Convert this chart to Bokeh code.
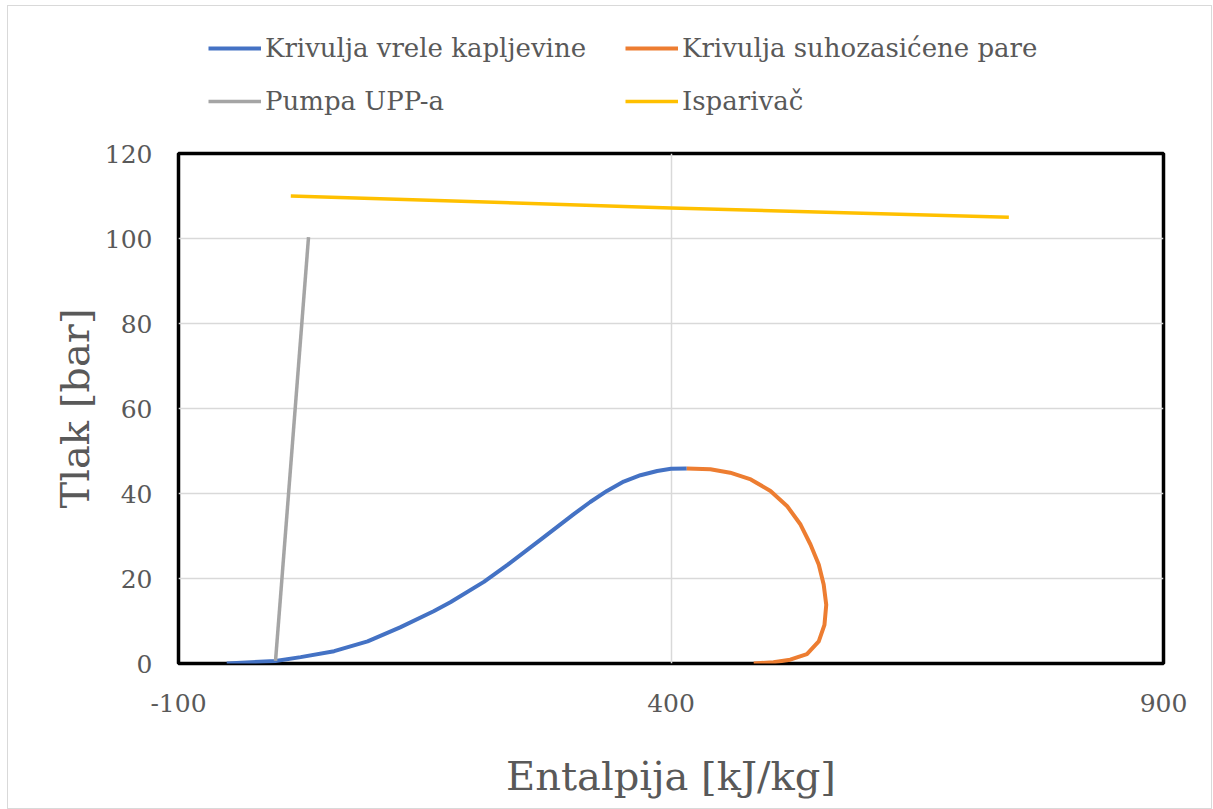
from bokeh.plotting import figure
from bokeh.models import Legend, LegendItem, FixedTicker, Range1d
from bokeh.layouts import column
from bokeh.embed import file_html
from bokeh.resources import INLINE

# --- data ---
blue_h = [-51, -1.5, 24, 58, 92, 125, 159, 176, 210, 234, 268, 301, 318, 335, 352, 369, 386, 400, 416]
blue_p = [0.0, 0.6, 1.5, 2.9, 5.2, 8.5, 12.3, 14.4, 19.2, 23.2, 29.2, 35.1, 38.0, 40.6, 42.8, 44.3, 45.3, 45.8, 45.9]

orange_h = [416, 440, 460, 481, 501, 518, 531.5, 541.6, 550, 555, 557.6, 555.8, 550, 538, 521, 504, 484]
orange_p = [45.9, 45.7, 44.9, 43.3, 40.6, 37.0, 32.7, 28.0, 23.3, 18.6, 13.8, 9.1, 5.2, 2.2, 0.9, 0.3, 0.0]

pump_h = [-1.5, 32]
pump_p = [0.6, 100.3]

evap_h = [14, 400, 743]
evap_p = [110.0, 107.2, 105.0]

x_ticks = [-100, 400, 900]
y_ticks = [0, 20, 40, 60, 80, 100, 120]

names = ["Krivulja vrele kapljevine", "Krivulja suhozasićene pare", "Pumpa UPP-a", "Isparivač"]
colors = ["#4472C4", "#ED7D31", "#A5A5A5", "#FFC000"]
widths = [4, 4, 3.5, 3.5]
series = [(blue_h, blue_p), (orange_h, orange_p), (pump_h, pump_p), (evap_h, evap_p)]

FONT = "DejaVu Serif"
TXT = "#595959"

# ---------- legend strip (top) ----------
lg = figure(width=1203, height=127, output_backend="svg", toolbar_location=None,
            x_axis_type=None, y_axis_type=None,
            x_range=Range1d(1e6, 1e6 + 1), y_range=Range1d(1e6, 1e6 + 1),
            min_border=0)
lg.outline_line_color = None
lg.grid.visible = False
proxies = [lg.line(h, v, line_color=c, line_width=w) for (h, v), c, w in zip(series, colors, widths)]
legend = Legend(items=[LegendItem(label=n, renderers=[r]) for n, r in zip(names, proxies)],
                location=(30, 17), ncols=2, orientation="horizontal")
legend.label_text_font = FONT
legend.label_text_font_size = "26px"
legend.label_text_color = TXT
legend.glyph_width = 53
legend.glyph_height = 20
legend.label_height = 20
legend.label_width = 337
legend.label_standoff = 4
legend.spacing = 23
legend.padding = 0
legend.margin = 0
legend.border_line_color = None
legend.background_fill_alpha = 0
lg.add_layout(legend, "center")

# ---------- main chart ----------
p = figure(width=1203, height=675, output_backend="svg", toolbar_location=None,
           x_range=Range1d(-100, 900), y_range=Range1d(0, 120),
           min_border_left=170, min_border_right=48, min_border_top=20, min_border_bottom=145)

p.outline_line_color = "black"
p.outline_line_width = 3.5

for ax in (p.xaxis[0], p.yaxis[0]):
    ax.axis_line_color = None
    ax.major_tick_line_color = None
    ax.minor_tick_line_color = None
    ax.major_tick_out = 0
    ax.major_tick_in = 0
    ax.minor_tick_out = 0
    ax.major_label_text_font = FONT
    ax.major_label_text_font_size = "25px"
    ax.major_label_text_color = TXT
    ax.axis_label_text_font = FONT
    ax.axis_label_text_font_size = "40px"
    ax.axis_label_text_color = TXT
    ax.axis_label_text_font_style = "normal"

p.xaxis.ticker = FixedTicker(ticks=x_ticks)
p.yaxis.ticker = FixedTicker(ticks=y_ticks)
p.xaxis.major_label_overrides = {t: str(t) for t in x_ticks}
p.xaxis.axis_label = "Entalpija [kJ/kg]"
p.yaxis.axis_label = "Tlak [bar]"
p.xaxis.major_label_standoff = 30
p.xaxis.axis_label_standoff = 38
p.yaxis.major_label_standoff = 26
p.yaxis.axis_label_standoff = 4

p.xgrid.ticker = FixedTicker(ticks=x_ticks)
p.ygrid.ticker = FixedTicker(ticks=y_ticks)
p.grid.grid_line_color = "#d9d9d9"
p.grid.grid_line_width = 1.5

for (h, v), c, w in zip(series, colors, widths):
    p.line(h, v, line_color=c, line_width=w, line_join="round")

layout = column(lg, p, spacing=0)
layout.styles = {"border": "1px solid #d9d9d9", "margin-left": "7px", "margin-top": "5px"}

open("out.html", "w").write(file_html(layout, INLINE))
